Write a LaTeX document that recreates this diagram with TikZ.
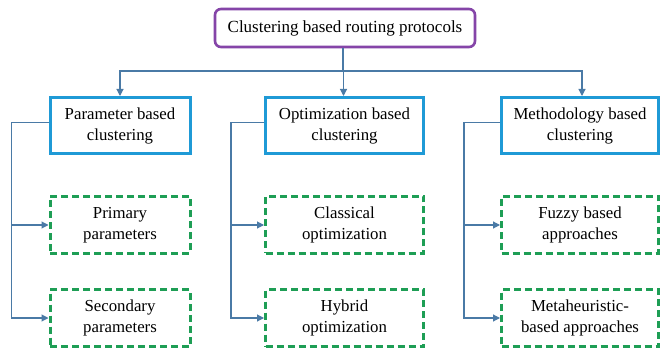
\documentclass[tikz,border=0pt]{standalone}
\usepackage{fontspec}
\setmainfont{Liberation Serif}
\usetikzlibrary{arrows.meta}
\definecolor{topc}{HTML}{8545A8}
\definecolor{midc}{HTML}{1F9AD6}
\definecolor{lowc}{HTML}{1E9E55}
\definecolor{linec}{HTML}{4A7AA6}
\tikzset{
  topbox/.style={draw=topc, line width=2.6pt, rounded corners=6pt, fill=white,
    minimum width=260pt, minimum height=38pt, inner sep=0pt, align=center,
    font=\fontsize{17}{21}\selectfont},
  midbox/.style={draw=midc, line width=3pt, fill=white, inner sep=0pt,
    minimum height=56pt, align=center, font=\fontsize{16.8}{21}\selectfont},
  lowbox/.style={draw=lowc, line width=3pt, dash pattern=on 7pt off 4pt, fill=white,
    inner sep=0pt, minimum height=57pt, align=center, font=\fontsize{16.8}{21}\selectfont},
  conn/.style={draw=linec, line width=1.1pt},
  arr/.style={conn, -{Triangle[length=7pt,width=7pt]}},
}
\begin{document}
\begin{tikzpicture}[x=1pt,y=-1pt]
\useasboundingbox (0,0) rectangle (660,352);
\fill[white] (0,0) rectangle (660,352);
\node[topbox] (top) at (345,28) {Clustering based routing protocols};
\coordinate (bus) at (0,71);
\node[midbox, minimum width=140pt] (p) at (120,125.5) {Parameter based\\clustering};
\node[midbox, minimum width=158pt] (o) at (344.5,125.5) {Optimization based\\clustering};
\node[midbox, minimum width=157pt] (m) at (580,125.5) {Methodology based\\clustering};
\node[lowbox, minimum width=140pt] (p1) at (120,225) {Primary\\parameters};
\node[lowbox, minimum width=140pt] (p2) at (120,318) {Secondary\\parameters};
\node[lowbox, minimum width=158pt] (o1) at (344.5,225) {Classical\\optimization};
\node[lowbox, minimum width=158pt] (o2) at (344.5,318) {Hybrid\\optimization};
\node[lowbox, minimum width=157pt] (m1) at (580,225) {Fuzzy based\\approaches};
\node[lowbox, minimum width=157pt] (m2) at (580,318) {Metaheuristic-\\based approaches};
\draw[conn] ([xshift=-2pt]top.south) -- ([xshift=-2pt]top.south |- bus);
\draw[arr] ([xshift=-2pt]top.south |- bus) -| (p.north);
\draw[arr] ([xshift=-2pt]top.south |- bus) -| ([xshift=-1pt]o.north);
\draw[arr] ([xshift=-2pt]top.south |- bus) -| ([xshift=2pt]m.north);
\draw[arr] ([yshift=3pt]p.west) -- ([xshift=-37pt,yshift=3pt]p.west) |- (p1.west);
\draw[arr] ([xshift=-37pt,yshift=3pt]p.west) |- (p2.west);
\draw[arr] ([yshift=3pt]o.west) -- ([xshift=-33pt,yshift=3pt]o.west) |- (o1.west);
\draw[arr] ([xshift=-33pt,yshift=3pt]o.west) |- (o2.west);
\draw[arr] ([yshift=3pt]m.west) -- ([xshift=-36pt,yshift=3pt]m.west) |- (m1.west);
\draw[arr] ([xshift=-36pt,yshift=3pt]m.west) |- (m2.west);
\end{tikzpicture}
\end{document}
